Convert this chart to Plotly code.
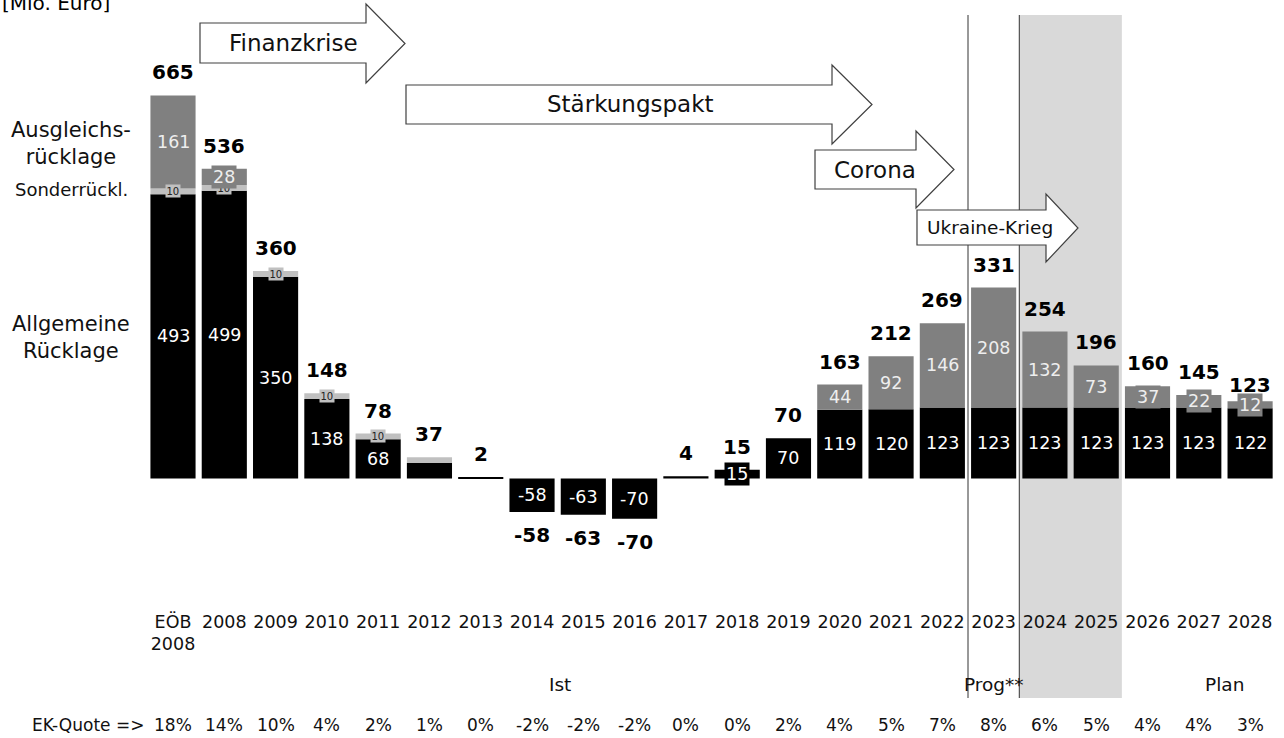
import plotly.graph_objects as go

W, H = 1284, 738

categories = ["EÖB<br>2008", "2008", "2009", "2010", "2011", "2012", "2013", "2014", "2015",
              "2016", "2017", "2018", "2019", "2020", "2021", "2022", "2023", "2024", "2025",
              "2026", "2027", "2028"]
allgemeine = [493, 499, 350, 138, 68, 27, 2, -58, -63, -70, 4, 15, 70, 119, 120, 123, 123, 123, 123, 123, 123, 122]
sonder = [10, 10, 10, 10, 10, 10, 0, 0, 0, 0, 0, 0, 0, 0, 0, 0, 0, 0, 0, 0, 0, 0]
ausgleich = [161, 28, 0, 0, 0, 0, 0, 0, 0, 0, 0, 0, 0, 44, 92, 146, 208, 132, 73, 37, 22, 12]
totals = [665, 536, 360, 148, 78, 37, 2, -58, -63, -70, 4, 15, 70, 163, 212, 269, 331, 254, 196, 160, 145, 123]
allg_labels = ["493", "499", "350", "138", "68", "", "", "-58", "-63", "-70", "", "15", "70", "119", "120",
               "123", "123", "123", "123", "123", "123", "122"]
sonder_labels = ["10", "10", "10", "10", "10", "", "", "", "", "", "", "", "", "", "", "", "", "", "", "", "", ""]
ausgl_labels = ["161", "28", "", "", "", "", "", "", "", "", "", "", "", "44", "92", "146", "208", "132", "73",
                "37", "22", "12"]
ek_quote = ["18%", "14%", "10%", "4%", "2%", "1%", "0%", "-2%", "-2%", "-2%", "0%", "0%", "2%", "4%", "5%",
            "7%", "8%", "6%", "5%", "4%", "4%", "3%"]
phases = [("Ist", 560), ("Prog**", 994), ("Plan", 1224)]
arrows = [
    # text, x0, body top, body bottom, head x, head top, head bottom, tip x, text x, font size
    ("Finanzkrise", 200, 23, 63, 366, 4, 83, 405, 293, 23),
    ("Stärkungspakt", 406, 85, 124, 832, 65, 144, 872, 630, 23),
    ("Corona", 815, 150, 189, 916, 131, 208, 954, 875, 23),
    ("Ukraine-Krieg", 917, 210, 245, 1046, 194, 262, 1078, 990, 18.5),
]

FONT = "DejaVu Sans"
C_BLACK = "#000000"
C_GRAY = "#808080"
C_LIGHT = "#c0c0c0"
C_SHADE = "#d9d9d9"

# pixel -> data mapping of the layout (margins are zero)
X0PX, XSTEP = 173.0, 51.29
ZERO_PX, YSCALE = 478.5, 0.5767
x_range = [-X0PX / XSTEP, (W - X0PX) / XSTEP]
y_range = [-(H - ZERO_PX) / YSCALE, ZERO_PX / YSCALE]


def PX(x):
    return x / W


def PY(y):
    return 1 - y / H


def txt(x, y, text, size, color="#111111", xref="paper", yref="paper", xanchor="center", yanchor="middle",
        **kw):
    d = dict(x=x, y=y, xref=xref, yref=yref, text=text, showarrow=False, xanchor=xanchor, yanchor=yanchor,
             font=dict(family=FONT, size=size, color=color))
    d.update(kw)
    return d


xs = list(range(len(categories)))

fig = go.Figure()
fig.add_bar(x=xs, y=allgemeine, marker_color=C_BLACK, marker_line_width=0, name="Allgemeine Rücklage")
fig.add_bar(x=xs, y=sonder, marker_color=C_LIGHT, marker_line_width=0, name="Sonderrücklage")
fig.add_bar(x=xs, y=ausgleich, marker_color=C_GRAY, marker_line_width=0, name="Ausgleichsrücklage")

ann = []
for i in xs:
    a, s, g = allgemeine[i], sonder[i], ausgleich[i]
    if allg_labels[i]:
        ann.append(txt(i, a / 2, allg_labels[i], 17.5, "#ffffff", "x", "y", bgcolor=C_BLACK, borderpad=1))
    if sonder_labels[i]:
        ann.append(txt(i, a + s / 2, sonder_labels[i], 10, "#222222", "x", "y", bgcolor=C_LIGHT, borderpad=0.5))
    if ausgl_labels[i]:
        ann.append(txt(i, a + s + g / 2, ausgl_labels[i], 17.5, "#eeeeee", "x", "y", bgcolor=C_GRAY, borderpad=1))
    t = totals[i]
    ann.append(txt(i, t, "<b>%d</b>" % t, 20, "#000000", "x", "y", yshift=23 if t >= 0 else -23))
    ann.append(txt(i, PY(725), ek_quote[i], 17, "#111111", "x", "paper"))

ann.append(txt(PX(146), PY(725), "EK-Quote =>", 17, xanchor="right"))
for t_, px in phases:
    ann.append(txt(PX(px), PY(684), t_, 18.5))

ann.append(txt(PX(0), PY(17), "[Mio. Euro]", 20, "#000000", xanchor="left", yanchor="bottom"))
ann.append(txt(PX(71), PY(143), "Ausgleichs-<br>rücklage", 21))
ann.append(txt(PX(71), PY(190), "Sonderrückl.", 18))
ann.append(txt(PX(71), PY(337), "Allgemeine<br>Rücklage", 21))

shapes = []
# forecast shading and separators
shapes.append(dict(type="rect", xref="x", yref="paper", x0=16.5, x1=18.5, y0=PY(698), y1=PY(15),
                   fillcolor=C_SHADE, line_width=0, layer="below"))
for xv in (15.5, 16.5):
    shapes.append(dict(type="line", xref="x", yref="paper", x0=xv, x1=xv, y0=PY(698), y1=PY(15),
                       line=dict(color="#333333", width=1), layer="below"))

for (label, x0, bt, bb, hx, ht, hb, tip, tx, fs) in arrows:
    ym = (ht + hb) / 2
    pts = [(x0, bt), (hx, bt), (hx, ht), (tip, ym), (hx, hb), (hx, bb), (x0, bb)]
    path = "M " + " L ".join("%.5f,%.5f" % (PX(a), PY(b)) for a, b in pts) + " Z"
    shapes.append(dict(type="path", xref="paper", yref="paper", path=path, fillcolor="#ffffff",
                       line=dict(color="#404040", width=1.2), layer="above"))
    ann.append(txt(PX(tx), PY((bt + bb) / 2), label, fs))

fig.update_layout(
    width=W, height=H,
    margin=dict(l=0, r=0, t=0, b=0, pad=0),
    paper_bgcolor="#ffffff", plot_bgcolor="rgba(0,0,0,0)",
    barmode="relative", bargap=0.12,
    showlegend=False,
    annotations=ann, shapes=shapes,
    xaxis=dict(range=x_range, tickvals=xs, ticktext=categories, showgrid=False, zeroline=False,
               showline=False, ticks="", anchor="free", position=(H - 609) / H,
               tickfont=dict(family=FONT, size=17.5, color="#111111"), fixedrange=True),
    yaxis=dict(range=y_range, visible=False, fixedrange=True),
)

fig.write_html("out.html", config={"displayModeBar": False},
               post_script="document.body.style.margin='0';")
